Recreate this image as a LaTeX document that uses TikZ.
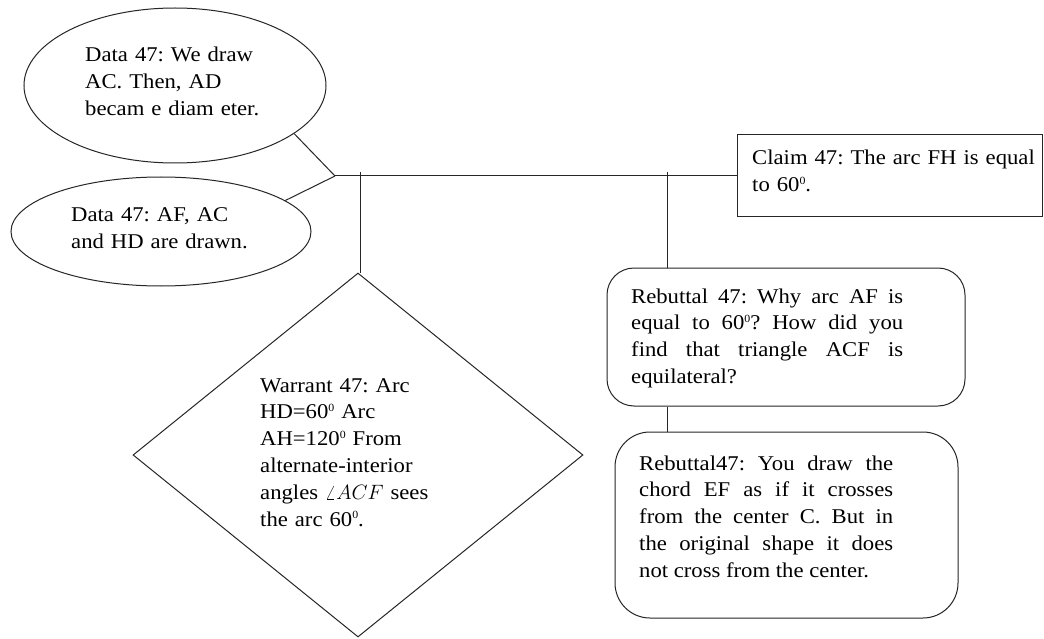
\documentclass[tikz,border=0pt]{standalone}
\usepackage{fontspec}
\setmainfont{Liberation Serif}[FakeStretch=1.08]
\usetikzlibrary{shapes.geometric}
% small raised degree-style zero
\newcommand{\degz}{\raisebox{7.5pt}{\fontsize{11}{11}\selectfont 0}}
\begin{document}
\frenchspacing
\begin{tikzpicture}[x=1pt,y=-1pt,
  every node/.style={inner sep=0pt},
  edge/.style={draw=black!85,line width=1pt},
  shapeline/.style={draw=black!85,line width=1pt},
  dataoval/.style={shapeline,ellipse},
  claimbox/.style={shapeline,rectangle},
  rebutbox/.style={shapeline,rectangle},
  warrantdiamond/.style={shapeline,diamond},
  txt/.style={anchor=base west,font=\fontsize{21}{26.8}\selectfont\frenchspacing},
  ragged/.style={txt,align=left},
  just/.style={txt,align=justify}]
\fill[white] (0,0) rectangle (1044,639);
\useasboundingbox (0,0) rectangle (1044,639);

% shapes
\node[dataoval,minimum width=302,minimum height=155] (d1) at (175,85.5) {};
\node[dataoval,minimum width=300,minimum height=109] (d2) at (161,231.5) {};
\node[claimbox,minimum width=305,minimum height=82] (claim) at (889.5,176) {};
\node[warrantdiamond,minimum width=450,minimum height=364] (warrant) at (358,455) {};
\node[rebutbox,rounded corners=27,minimum width=358,minimum height=138] (reb1) at (786,337) {};
\node[rebutbox,rounded corners=35,minimum width=343,minimum height=186] (reb2) at (786.5,525) {};

% texts
\node[ragged,text width=300] (t1) at (85,62) {Data 47: We draw\\AC. Then, AD\\becam e diam eter.};
\node[ragged,text width=300] (t2) at (71,222) {Data 47: AF, AC\\and HD are drawn.};
\node[ragged,text width=300] (tc) at (752,165) {Claim 47: The arc FH is equal\\to 60\degz.};
\node[ragged,text width=300] (tw) at (260,392) {Warrant 47: Arc\\HD=60\degz{} Arc\\AH=120\degz{} From\\alternate-interior\\angles $\angle ACF$ sees\\the arc 60\degz.};
\node[just,text width=272] (tr1) at (631,303) {Rebuttal 47: Why arc AF is\linebreak equal to 60\degz? How did you\linebreak find that triangle ACF is\linebreak equilateral?};
\node[just,text width=254] (tr2) at (639,470) {Rebuttal47: You draw the\linebreak chord EF as if it crosses\linebreak from the center C. But in\linebreak the original shape it does\linebreak not cross from the center.};

% connectors
\coordinate (J) at (335,176);
\coordinate (w0) at (360,172);
\coordinate (r0) at (667,172);
\draw[edge] (d1.-22.5) -- (J);
\draw[edge] (d2.14) -- (J);
\draw[edge] (J) -- (claim.west);
\draw[edge] (w0) -- (w0 |- warrant.north);
\draw[edge] (r0) -- (r0 |- reb1.north);
\draw[edge] (r0 |- reb1.south) -- (r0 |- reb2.north);
\end{tikzpicture}
\end{document}
